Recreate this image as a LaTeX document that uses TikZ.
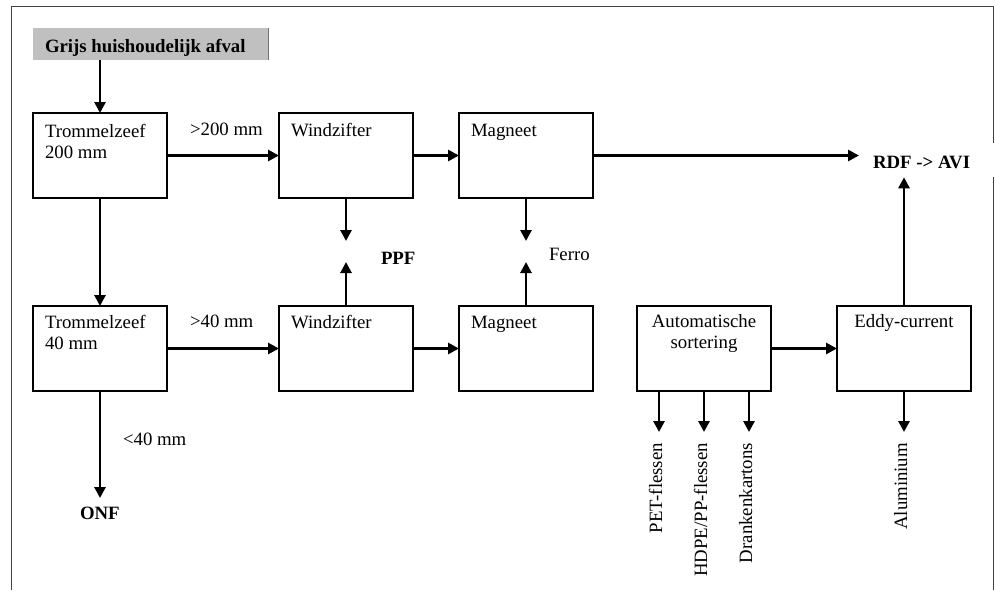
\documentclass[tikz,border=0pt]{standalone}
\usepackage{fontspec}
\setmainfont{Liberation Serif}
\usetikzlibrary{arrows.meta}
\definecolor{hdrgray}{RGB}{192,192,192}
\newcommand\lftpair[2]{\begin{tabular}[t]{@{}l@{}}#1\\#2\end{tabular}}
\newcommand\ctrpair[2]{\begin{tabular}[t]{@{}c@{}}#1\\#2\end{tabular}}
\begin{document}
\begin{tikzpicture}[x=1pt,y=-1pt,
  every node/.style={font=\fontsize{18.8}{21}\selectfont, inner sep=0pt, outer sep=0pt},
  box/.style={draw=black, line width=1.2pt, minimum width=134pt, minimum height=85pt, anchor=north west},
  flow/.style={line width=2.9pt, -{Triangle[length=11pt,width=11pt]}},
  frame/.style={draw=black!75, line width=1pt},
  txt/.style={anchor=base west},
  ctxt/.style={anchor=base},
  bold/.style={anchor=base west, font=\fontsize{18.8}{21}\selectfont\bfseries},
  vert/.style={anchor=base east, rotate=90}
]
\useasboundingbox (0,0) rectangle (995,590);

% page frame, open where the RDF label sits
\draw[frame] (11,590) -- (11,6) -- (993,6) -- (993,143);
\draw[frame] (993,177) -- (993,590);

% input
\node[fill=hdrgray, minimum width=235pt, minimum height=32pt, anchor=north west] (hdr) at (33,28) {};
\draw[draw=black!55, line width=0.8pt] (hdr.north east) -- (hdr.south east);
\node[bold] (hdrtxt) at (45,52) {Grijs huishoudelijk afval};

% process boxes
\node[box] (t200) at (33,113) {};
\node[box] (w1)   at (279,113) {};
\node[box] (m1)   at (459,113) {};
\node[box] (t40)  at (33,306) {};
\node[box] (w2)   at (279,306) {};
\node[box] (m2)   at (459,306) {};
\node[box] (as)   at (637,306) {};
\node[box] (ed)   at (837,306) {};

\node[txt]  (t200txt) at (45,137) {\lftpair{Trommelzeef}{200 mm}};
\node[txt]  (w1txt)   at (291,136) {Windzifter};
\node[txt]  (m1txt)   at (471,136) {Magneet};
\node[txt]  (t40txt)  at (45,328) {\lftpair{Trommelzeef}{40 mm}};
\node[txt]  (w2txt)   at (291,328) {Windzifter};
\node[txt]  (m2txt)   at (471,328) {Magneet};
\node[ctxt] (astxt)   at (704,327) {\ctrpair{Automatische}{sortering}};
\node[ctxt] (edtxt)   at (904,327) {Eddy-current};

% outputs and labels
\node[bold] (rdf)   at (873,168) {RDF -> AVI};
\node[bold] (ppf)   at (381,264) {PPF};
\node[txt]  (ferro) at (549,260) {Ferro};
\node[bold] (onf)   at (80,519) {ONF};
\node[txt]  (gt200) at (190,135) {>200 mm};
\node[txt]  (gt40)  at (190,327) {>40 mm};
\node[txt]  (lt40)  at (123,445) {<40 mm};
\node[vert] (pet)   at (662,443) {PET-flessen};
\node[vert] (hdpe)  at (707,443) {HDPE/PP-flessen};
\node[vert] (drank) at (752,443) {Drankenkartons};
\node[vert] (alu)   at (907,443) {Aluminium};

% free arrow ends
\coordinate (w1out) at (346,241);
\coordinate (w2out) at (346,262);
\coordinate (m1out) at (526,241);
\coordinate (m2out) at (526,262);
\coordinate (onfin) at (100,498);
\coordinate (petin) at (659,432);
\coordinate (hdpein) at (704,432);
\coordinate (drankin) at (749,432);
\coordinate (aluin) at (904,432);

% flows
\draw[flow] (hdr.south -| t200.north) -- (t200.north);
\draw[flow] (t200.east) -- (w1.west);
\draw[flow] (w1.east) -- (m1.west);
\draw[flow] (m1.east) -- ([xshift=-14pt]rdf.west |- m1.east);
\draw[flow] (t200.south) -- (t40.north);
\draw[flow] (t40.east) -- (w2.west);
\draw[flow] (w2.east) -- (m2.west);
\draw[flow] (as.east) -- (ed.west);
\draw[flow] (w1.south) -- (w1out);
\draw[flow] (w2.north) -- (w2out);
\draw[flow] (m1.south) -- (m1out);
\draw[flow] (m2.north) -- (m2out);
\draw[flow] (t40.south) -- (onfin);
\draw[flow] (as.south -| petin) -- (petin);
\draw[flow] (as.south -| hdpein) -- (hdpein);
\draw[flow] (as.south -| drankin) -- (drankin);
\draw[flow] (ed.south) -- (aluin);
\draw[flow] (ed.north) -- ([yshift=-9pt]rdf.south -| ed.north);
\end{tikzpicture}
\end{document}
